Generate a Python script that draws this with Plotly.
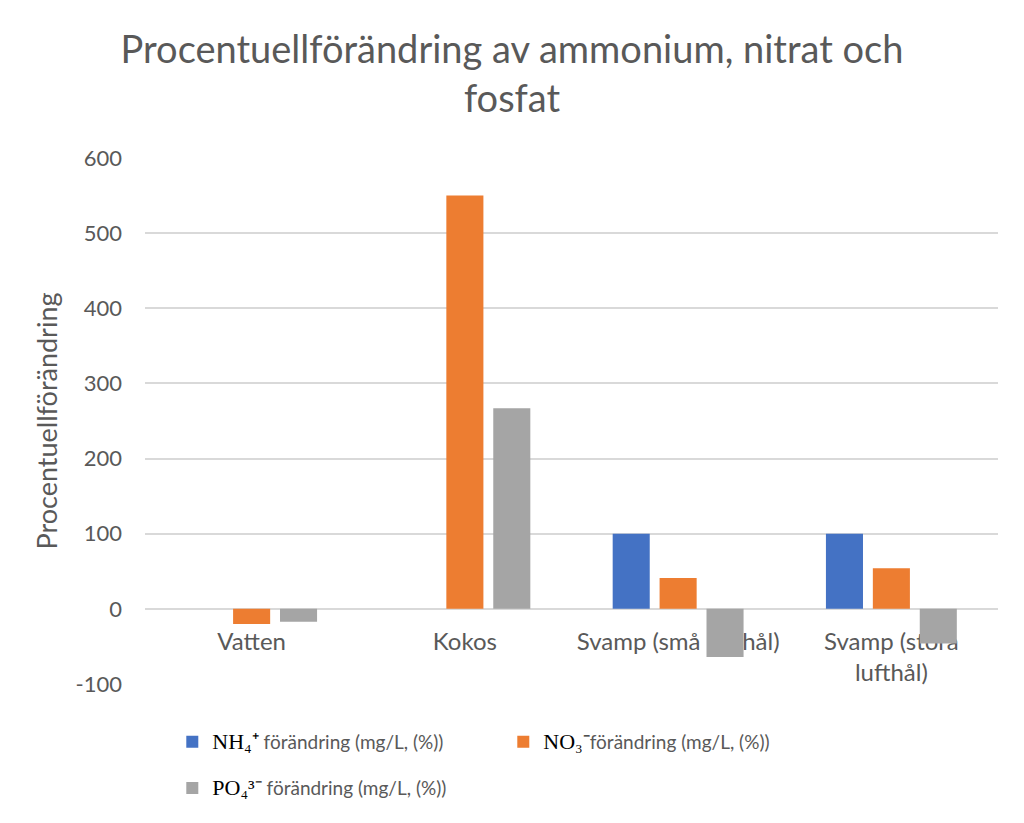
import plotly.graph_objects as go

categories = ["Vatten", "Kokos", "Svamp (små lufthål)", "Svamp (stora<br>lufthål)"]
nh4 = [0, 0, 100, 100]
no3 = [-20, 550, 41, 54]
po4 = [-17, 267, -64, -46]
y_ticks = [-100, 0, 100, 200, 300, 400, 500, 600]
y_ticktext = ["-100", "0", "100", "200", "300", "400", "500", "600"]

serif = "Liberation Serif"
names = [
    f'<span style="font-family:{serif};font-size:22px;color:#000">NH₄⁺</span> förändring (mg/L, (%))',
    f'<span style="font-family:{serif};font-size:22px;color:#000">NO₃⁻</span>förändring (mg/L, (%))',
    f'<span style="font-family:{serif};font-size:22px;color:#000">PO₄³⁻</span> förändring (mg/L, (%))',
]
colors = ["#4472C4", "#ED7D31", "#A5A5A5"]
legends = ["legend", "legend", "legend2"]

fig = go.Figure()
for name, vals, c, lg in zip(names, [nh4, no3, po4], colors, legends):
    fig.add_trace(go.Bar(x=categories, y=vals, name=name, legend=lg,
                         marker=dict(color=c, line=dict(width=0))))

ymin, ymax = -100, 600
leg_common = dict(orientation="h", xanchor="left", yanchor="middle",
                  entrywidth=286, font=dict(size=19, color="#595959"),
                  itemwidth=30, bgcolor="rgba(0,0,0,0)")
fig.update_layout(
    width=1024, height=823,
    margin=dict(l=145, r=26, t=158, b=139),
    paper_bgcolor="white", plot_bgcolor="white",
    font=dict(family="Lato", color="#595959", size=18),
    title=dict(text="Procentuellförändring av ammonium, nitrat och<br>fosfat",
               x=0.5, xanchor="center", yref="container", y=1 - 63 / 823, yanchor="middle",
               font=dict(family="Lato", size=38, color="#595959")),
    barmode="group", bargap=0.34, bargroupgap=0.21,
    showlegend=True,
    legend=dict(x=0.032, y=-0.110, **leg_common),
    legend2=dict(x=0.032, y=-0.198, **leg_common),
    xaxis=dict(anchor="free", position=(0 - ymin) / (ymax - ymin), showgrid=False,
               showline=False, ticks="", layer="below traces", automargin=False,
               ticklabelstandoff=16, tickfont=dict(size=24, color="#595959")),
    yaxis=dict(range=[ymin, ymax], tickvals=y_ticks, ticktext=y_ticktext,
               gridcolor="#D9D9D9", gridwidth=1.5, automargin=False,
               zeroline=True, zerolinecolor="#D9D9D9", zerolinewidth=1.5,
               tickfont=dict(size=22, color="#595959"), ticklabelstandoff=22,
               title=dict(text="Procentuellförändring", font=dict(size=27, color="#595959"), standoff=10)),
)
fig.write_html("out.html", config={"displayModeBar": False},
               post_script="document.body.style.margin='0';")
